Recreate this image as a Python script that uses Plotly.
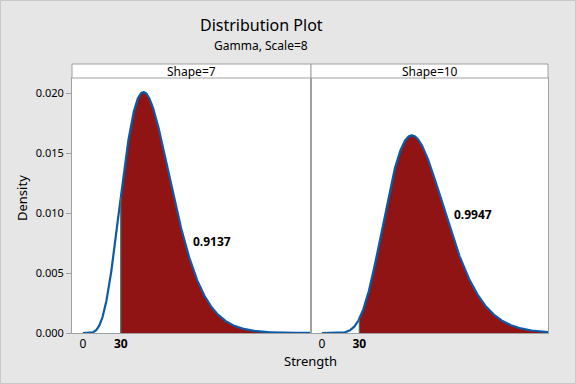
import math
import plotly.graph_objects as go

# ---- data ----
panel_titles = ["Shape=7", "Shape=10"]
shapes = [7, 10]
scale = 8
cutoff = 30
probabilities = ["0.9137", "0.9947"]
x_ticks = [0, 30]
x_ticklabels = ["0", "<b>30</b>"]
y_ticks = [0.0, 0.005, 0.010, 0.015, 0.020]
x_range = [-8.7, 181]
y_range = [0, 0.02125]
label_pos = [(102.6, 0.0076), (120.7, 0.0099)]

FONT = "Noto Sans"
FILL = "#901414"
LINE = "#0a5aa8"


def gamma_pdf(x, k, theta):
    if x <= 0:
        return 0.0
    return math.exp((k - 1) * math.log(x) - x / theta - math.lgamma(k) - k * math.log(theta))


n = 600
fig = go.Figure()
split = (311 - 72) / 476
domains = [[0, split], [split, 1]]
ytop = (333 - 78) / (333 - 64)

for i, k in enumerate(shapes):
    xa = "x" if i == 0 else "x2"
    ya = "y" if i == 0 else "y2"
    grid = [x_range[1] * j / n for j in range(n + 1)]
    ys = [gamma_pdf(v, k, scale) for v in grid]
    fx = [cutoff] + [v for v in grid if v > cutoff]
    fy = [gamma_pdf(v, k, scale) for v in fx]
    fig.add_trace(go.Scatter(x=fx, y=fy, mode="lines", fill="tozeroy",
                             fillcolor=FILL, line=dict(width=0, color=FILL),
                             hoverinfo="skip", showlegend=False, xaxis=xa, yaxis=ya))
    fig.add_trace(go.Scatter(x=grid, y=ys, mode="lines",
                             line=dict(color=LINE, width=2.2),
                             showlegend=False, xaxis=xa, yaxis=ya))
    fig.add_shape(type="line", xref=xa, yref=ya, x0=cutoff, x1=cutoff, y0=0,
                  y1=gamma_pdf(cutoff, k, scale), line=dict(color="#606060", width=1.2))
    fig.add_annotation(x=label_pos[i][0], y=label_pos[i][1], xref=xa, yref=ya,
                       text="<b>" + probabilities[i] + "</b>", showarrow=False,
                       xanchor="center", yanchor="middle",
                       font=dict(family=FONT, size=12, color="black"))
    # strip
    fig.add_shape(type="rect", xref="paper", yref="paper", x0=domains[i][0], x1=domains[i][1],
                  y0=ytop, y1=1, fillcolor="white", line=dict(color="#a0a0a0", width=1))
    fig.add_annotation(x=(domains[i][0] + domains[i][1]) / 2, y=(ytop + 1) / 2,
                       xref="paper", yref="paper", text=panel_titles[i], showarrow=False,
                       xanchor="center", yanchor="middle",
                       font=dict(family=FONT, size=12, color="black"))

axis_common = dict(showgrid=False, zeroline=False, showline=True, mirror=True,
                   linecolor="#a0a0a0", linewidth=1)

fig.update_layout(
    width=576, height=384,
    margin=dict(l=72, r=28, t=64, b=51),
    paper_bgcolor="#e6e6e6", plot_bgcolor="white",
    font=dict(family=FONT, size=11, color="black"),
    xaxis=dict(domain=domains[0], range=x_range, tickvals=x_ticks, ticktext=x_ticklabels,
               ticks="", tickfont=dict(size=12), **axis_common),
    xaxis2=dict(domain=domains[1], range=x_range, tickvals=x_ticks, ticktext=x_ticklabels,
                ticks="", tickfont=dict(size=12), anchor="y2", **axis_common),
    yaxis=dict(domain=[0, ytop], range=y_range, tickvals=y_ticks, tickformat=".3f",
               ticks="outside", ticklen=5, tickcolor="#a0a0a0", **axis_common),
    yaxis2=dict(domain=[0, ytop], range=y_range, showticklabels=False, ticks="",
                anchor="x2", **axis_common),
)


def paper_annot(px, py, text, size, angle=0):
    fig.add_annotation(x=(px - 72) / 476, y=(333 - py) / 269, xref="paper", yref="paper",
                       text=text, showarrow=False, textangle=angle,
                       xanchor="center", yanchor="middle",
                       font=dict(family=FONT, size=size, color="black"))


paper_annot(261, 25, "Distribution Plot", 16)
paper_annot(261, 45, "Gamma, Scale=8", 12)
paper_annot(310, 361, "Strength", 13)
paper_annot(22, 198, "Density", 13, -90)

# outer border
fig.add_shape(type="rect", xref="paper", yref="paper", x0=-71.5 / 476, x1=1 + 27.5 / 476,
              y0=-50.5 / 269, y1=1 + 63.5 / 269, line=dict(color="#c8c8c8", width=1),
              fillcolor="rgba(0,0,0,0)", layer="below")

fig.write_html("out.html", config={"displayModeBar": False},
               post_script="document.body.style.margin='0';document.body.style.padding='0';")
